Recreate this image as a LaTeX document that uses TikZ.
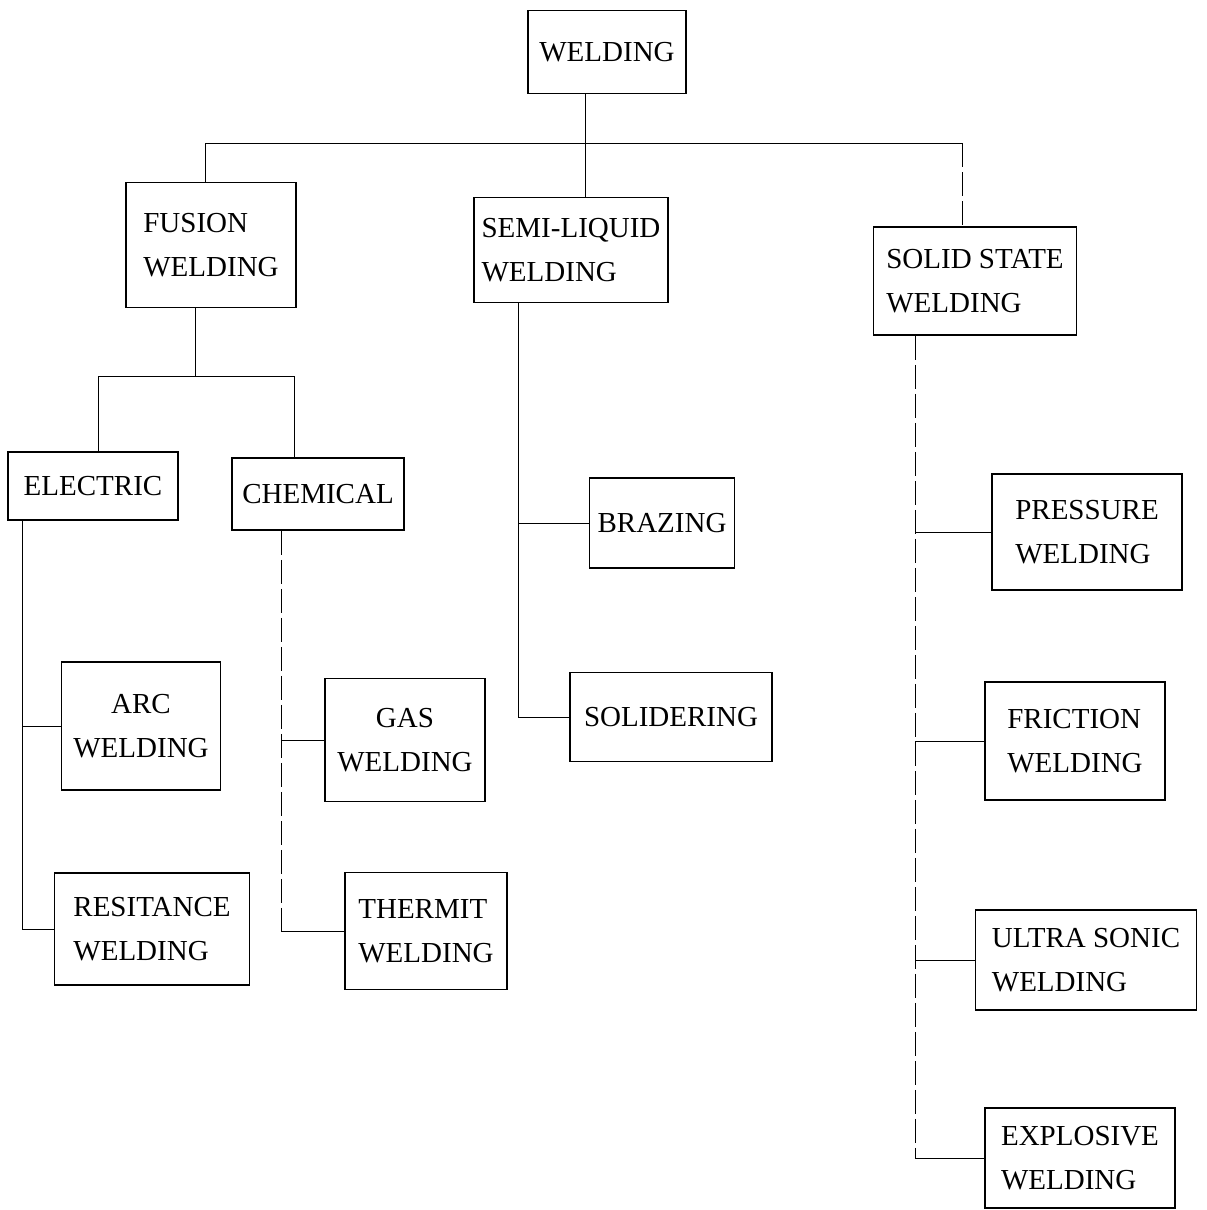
\documentclass[tikz,border=0pt]{standalone}
\usepackage{fontspec}
\setmainfont{Liberation Serif}
\begin{document}
\begin{tikzpicture}[x=1pt,y=-1pt,
  box/.style={draw,line width=1.5pt,rectangle,inner sep=0pt,font=\fontsize{29}{44}\selectfont},
  conn/.style={line width=1pt},
  brk/.style={line width=1pt,dash pattern=on 24pt off 5pt}]
\useasboundingbox (0,0) rectangle (1207,1210);
% boxes
\node[box,minimum width=158,minimum height=83] (weld) at (607,52) {WELDING};
\node[box,minimum width=170,minimum height=125,align=left] (fusion) at (211,245) {FUSION\\WELDING};
\node[box,minimum width=194,minimum height=105,align=left] (semi) at (571,250) {SEMI-LIQUID\\WELDING};
\node[box,minimum width=203,minimum height=108,align=left] (solid) at (975,281) {SOLID STATE\\WELDING};
\node[box,minimum width=170,minimum height=68] (elec) at (93,486) {ELECTRIC};
\node[box,minimum width=172,minimum height=72] (chem) at (318,494) {CHEMICAL};
\node[box,minimum width=159,minimum height=128,align=center] (arc) at (141,726) {ARC\\WELDING};
\node[box,minimum width=195,minimum height=112,align=left] (resit) at (152,929) {RESITANCE\\WELDING};
\node[box,minimum width=160,minimum height=123,align=center] (gas) at (405,740) {GAS\\WELDING};
\node[box,minimum width=162,minimum height=117,align=left] (thermit) at (426,931) {THERMIT\\WELDING};
\node[box,minimum width=145,minimum height=90] (brazing) at (662,523) {BRAZING};
\node[box,minimum width=202,minimum height=89] (solider) at (671,717) {SOLIDERING};
\node[box,minimum width=190,minimum height=116,align=left] (pressure) at (1087,532) {PRESSURE\\WELDING};
\node[box,minimum width=180,minimum height=118,align=left] (friction) at (1075,741) {FRICTION\\WELDING};
\node[box,minimum width=221,minimum height=100,align=left] (ultra) at (1086,960) {ULTRA SONIC\\WELDING};
\node[box,minimum width=190,minimum height=100,align=left] (explosive) at (1080,1158) {EXPLOSIVE\\WELDING};
% top bus
\coordinate (busL) at (205,143);
\coordinate (busM) at (585,143);
\coordinate (busR) at (962,143);
\draw[conn] (busL) -- (busR);
\draw[conn] (weld.south -| busM) -- (semi.north -| busM);
\draw[conn] (fusion.north -| busL) -- (busL);
\draw[brk] (busR) -- (solid.north -| busR);
% fusion sub-bus
\coordinate (fb) at (195,376);
\coordinate (fbL) at (98,376);
\coordinate (fbR) at (294,376);
\draw[conn] (fusion.south -| fb) -- (fb);
\draw[conn] (elec.north -| fbL) -- (fbL) -- (fbR) -- (chem.north -| fbR);
% electric trunk
\coordinate (et) at (22,0);
\draw[conn] (elec.south -| et) |- (arc.west);
\draw[conn] (elec.south -| et) |- (resit.west);
% chemical trunk
\coordinate (ct) at (281,0);
\draw[brk] (chem.south -| ct) -- (thermit.west -| ct);
\draw[conn] (gas.west -| ct) -- (gas.west);
\draw[conn] (thermit.west -| ct) -- (thermit.west);
% semi-liquid trunk
\coordinate (st) at (518,0);
\draw[conn] (semi.south -| st) |- (brazing.west);
\draw[conn] (semi.south -| st) |- (solider.west);
% solid state trunk
\coordinate (ss) at (915,0);
\draw[brk] (solid.south -| ss) -- (explosive.west -| ss);
\draw[conn] (pressure.west -| ss) -- (pressure.west);
\draw[conn] (friction.west -| ss) -- (friction.west);
\draw[conn] (ultra.west -| ss) -- (ultra.west);
\draw[conn] (explosive.west -| ss) -- (explosive.west);
\end{tikzpicture}
\end{document}
